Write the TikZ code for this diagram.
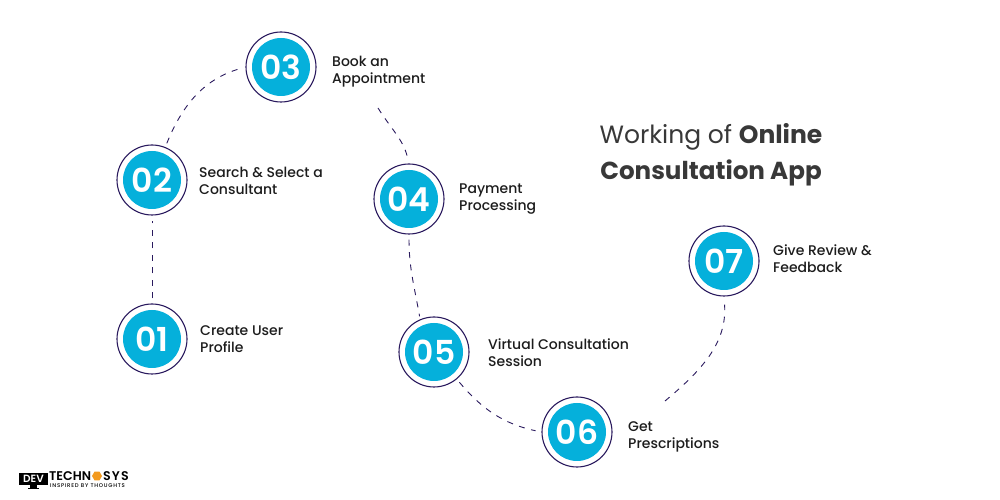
\documentclass[tikz,border=0pt]{standalone}
\usepackage{fontspec}
\setmainfont{Poppins}
\newfontfamily\popmedium{Poppins Medium}
\newfontfamily\popsemi{Poppins SemiBold}
\newfontfamily\popwide{Poppins SemiBold}[LetterSpace=9]
\newfontfamily\poptag{Poppins Medium}[LetterSpace=14]
\usetikzlibrary{positioning, shapes.geometric}
\definecolor{stepblue}{HTML}{05B0DB}
\definecolor{ringdark}{HTML}{2A1A5E}
\definecolor{textdark}{HTML}{1C1C1C}
\definecolor{titledark}{HTML}{383838}
\definecolor{hexorange}{HTML}{F39A1E}
\tikzset{
  stepcircle/.style={circle, draw=ringdark, line width=1.1pt, fill=white, minimum size=70pt, inner sep=0pt,
    text=white, font=\fontsize{33}{33}\popsemi,
    path picture={\fill[stepblue] (path picture bounding box.center) circle (29pt);}},
  steptext/.style={anchor=west, align=left, inner sep=0pt, text=textdark, font=\fontsize{14}{17}\popmedium},
  titletext/.style={anchor=center, align=center, inner sep=0pt, text=titledark, font=\fontsize{25}{36}\selectfont},
  dashline/.style={draw=ringdark, line width=0.9pt, dash pattern=on 6pt off 6.5pt},
  logotext/.style={anchor=base west, inner sep=0pt, text=black, text height=9.5pt, text depth=0pt, font=\fontsize{12.6}{12.6}\popsemi}
}
\begin{document}
\begin{tikzpicture}[x=1pt, y=1pt]
  \useasboundingbox (0,0) rectangle (1000,500);
  % steps
  \node[stepcircle] (n01) at (152,161) {01};
  \node[stepcircle] (n02) at (152,320) {02};
  \node[stepcircle] (n03) at (281,433) {03};
  \node[stepcircle] (n04) at (409,301) {04};
  \node[stepcircle] (n05) at (434,148) {05};
  \node[stepcircle] (n06) at (577,68) {06};
  \node[stepcircle] (n07) at (724,239) {07};
  % labels
  \node[steptext] (t01) at (200,161) {Create User\\Profile};
  \node[steptext] (t02) at (199,319) {Search \& Select a\\Consultant};
  \node[steptext] (t03) at (332,428) {Book an\\Appointment};
  \node[steptext] (t04) at (459,301) {Payment\\Processing};
  \node[steptext] (t05) at (488,147) {Virtual Consultation\\Session};
  \node[steptext] (t06) at (628,63) {Get\\Prescriptions};
  \node[steptext] (t07) at (773,241) {Give Review \&\\Feedback};
  % free ends of the two long arcs
  \coordinate (c34) at (378,392);
  \coordinate (c67) at (665,99);
  % connectors
  \draw[dashline, shorten <=5pt, shorten >=5pt] (n01) -- (n02);
  \draw[dashline, shorten <=4pt, shorten >=8pt] (n02.68) to[out=68, in=197] (n03.west);
  \draw[dashline, shorten >=7pt] (c34) to[out=-58, in=104] (n04.north);
  \draw[dashline, shorten <=5pt, shorten >=3pt] (n04.south) to[out=-90, in=100] (n05.113);
  \draw[dashline, shorten <=4pt, shorten >=6pt] (n05.-50) to[out=-50, in=168] (n06.west);
  \draw[dashline, shorten >=8pt] (c67) to[out=40, in=-86] (n07.south);
  % title
  \node[titletext] (title1) at (711,363) {Working of {\bfseries Online}};
  \node[titletext, font=\fontsize{24.6}{36}\selectfont] (title2) at (711,327) {\bfseries Consultation App};
  % logo
  \fill[black] (19,15) rectangle (48,27);
  \fill[black] (30,12) rectangle (37,15);
  \fill[black] (28,11) rectangle (39,12);
  \node[anchor=center, inner sep=0pt, text=white, font=\fontsize{10.5}{10.5}\popsemi] (logodev) at (33.5,21) {DEV};
  \node[logotext] (logotech) at (49,19.5) {TECHN};
  \node[regular polygon, regular polygon sides=6, fill=hexorange, minimum size=10pt, inner sep=0pt] (logohex) at (97,24) {};
  \node[logotext, font=\fontsize{12.6}{12.6}\popwide] (logosys) at (103,19.5) {SYS};
  \node[anchor=base west, inner sep=0pt, text=black, text height=4pt, text depth=0pt, font=\fontsize{5.4}{5.4}\poptag] (logotag) at (50,12.5) {INSPIRED BY THOUGHTS};
\end{tikzpicture}
\end{document}
